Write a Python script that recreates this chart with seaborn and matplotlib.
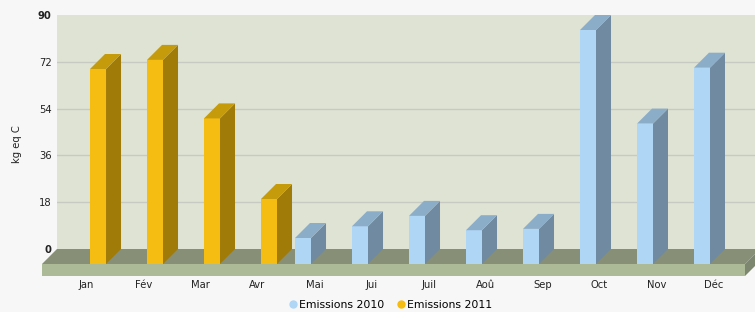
import numpy as np
import pandas as pd
import matplotlib.pyplot as plt
import seaborn as sns
from matplotlib.lines import Line2D

# data
months = ["Jan", "Fév", "Mar", "Avr", "Mai", "Jui", "Juil", "Aoû", "Sep", "Oct", "Nov", "Déc"]
emissions_2010 = [np.nan, np.nan, np.nan, np.nan, 10, 14.5, 18.5, 13, 13.5, 90, 54, 75.5]
emissions_2011 = [75, 78.5, 56, 25, np.nan, np.nan, np.nan, np.nan, np.nan, np.nan, np.nan, np.nan]
series = ["Emissions 2010", "Emissions 2011"]
yticks = [0, 18, 36, 54, 72, 90]

front_col = {"Emissions 2010": "#b0d6f5", "Emissions 2011": "#f5bc12"}
side_col = {"Emissions 2010": "#6f8aa1", "Emissions 2011": "#a17b08"}
top_col = {"Emissions 2010": "#8cadc8", "Emissions 2011": "#c59b0c"}

df = pd.DataFrame({
    "month": months * 2,
    "series": [series[0]] * 12 + [series[1]] * 12,
    "value": emissions_2010 + emissions_2011,
}).dropna()

fs = 7.2
fig = plt.figure(figsize=(7.55, 3.12), dpi=100, facecolor="#f7f7f7")
ax = fig.add_axes([57 / 755, 63 / 312, 698 / 755, 234 / 312])
ax.set_facecolor("#dee3d4")

sns.barplot(data=df, x="month", y="value", hue="series", order=months,
            hue_order=series, palette=front_col, width=0.807, gap=0.304,
            dodge=True, saturation=1, errorbar=None, legend=False, ax=ax)
bars = list(ax.patches)

x_left, x_right = -0.781, 11.465
ax.set_xlim(x_left, x_right)
ax.set_ylim(0, 90)

# depth of the fake 3d, 15 px, in data units
pos = ax.get_position()
px_x = pos.width * 755 / (x_right - x_left)
px_y = pos.height * 312 / 90
dx, dy = 15 / px_x, 15 / px_y

# floor
fr = x_right + 5 / px_x
slab = 12 / px_y
ax.fill([x_left, fr, fr - dx, x_left - dx], [0, 0, -dy, -dy],
        color="#878f77", clip_on=False, zorder=1, lw=0)
ax.fill([x_left - dx, fr - dx, fr - dx, x_left - dx],
        [-dy, -dy, -dy - slab, -dy - slab],
        color="#adba98", clip_on=False, zorder=1, lw=0)
ax.fill([fr - dx, fr, fr, fr - dx], [-dy, 0, -slab, -dy - slab],
        color="#7d866e", clip_on=False, zorder=1, lw=0)

# turn seaborn's bars into boxes
for p in bars:
    h = p.get_height()
    if not np.isfinite(h) or h <= 0:
        continue
    x0, w = p.get_x(), p.get_width()
    name = series[0] if p.get_facecolor()[2] > 0.5 else series[1]
    p.set_x(x0 - dx)
    p.set_y(-dy)
    p.set_clip_on(False)
    p.set_zorder(3)
    p.set_edgecolor("none")
    ax.fill([x0 + w - dx, x0 + w, x0 + w, x0 + w - dx], [-dy, 0, h, h - dy],
            color=side_col[name], clip_on=False, zorder=3, lw=0)
    ax.fill([x0 - dx, x0, x0 + w, x0 + w - dx], [h - dy, h, h, h - dy],
            color=top_col[name], clip_on=False, zorder=3, lw=0)

ax.set_yticks(yticks)
ax.grid(axis="y", color="#c7cac3", lw=1)
ax.set_axisbelow(True)
gl = ax.yaxis.get_gridlines()
gl[0].set_visible(False)
gl[-1].set_visible(False)
ax.tick_params(axis="y", length=0, pad=4, labelsize=fs, labelcolor="#222222")
for t in ax.get_yticklabels():
    if t.get_text() in ("0", "90"):
        t.set_fontweight("bold")

ax.set_xticks(np.arange(len(months)) - dx, labels=months)
ax.tick_params(axis="x", length=0, pad=22, labelsize=fs, labelcolor="#222222")
ax.set_xlabel("")
ax.set_ylabel("kg eq C", fontsize=fs, color="#222222")
ax.yaxis.set_label_coords(-0.05, 0.45)
for s in ax.spines.values():
    s.set_visible(False)

handles = [Line2D([], [], ls="", marker="o", ms=5, color=front_col[s]) for s in series]
fig.legend(handles, series, loc="center", bbox_to_anchor=(0.517, 0.022), ncol=2,
           frameon=False, fontsize=7.8, handletextpad=0.1, columnspacing=1.2,
           handlelength=0.8)

fig.savefig("out.png", dpi=100, facecolor=fig.get_facecolor())
